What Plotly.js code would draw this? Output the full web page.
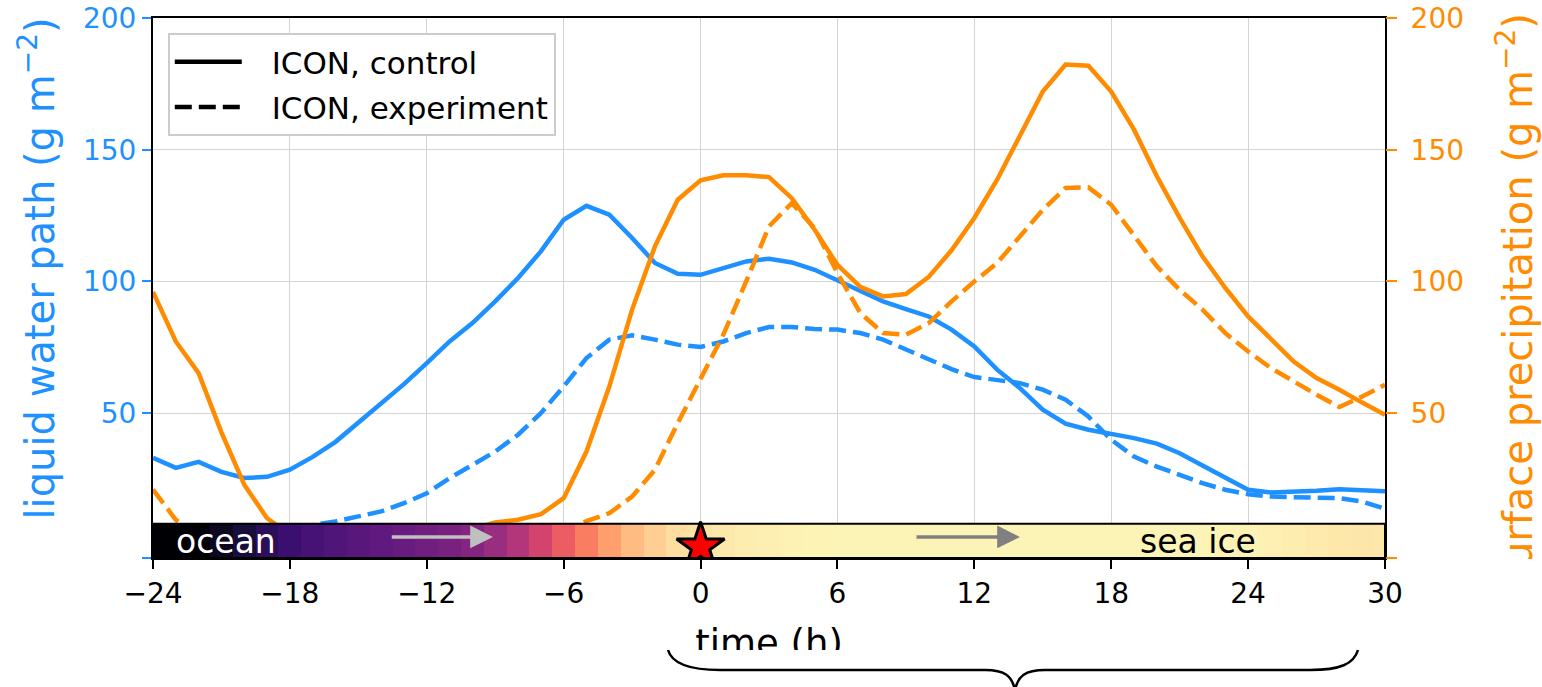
<!DOCTYPE html>
<html>
<head>
<meta charset="utf-8">
<script src="https://cdn.plot.ly/plotly-3.0.1.min.js"></script>
<style>
  html, body { margin: 0; padding: 0; background: #fff; }
  #wrap { position: relative; width: 1542px; height: 687px; overflow: hidden; }
  #plot { position: absolute; left: 0; top: 0; width: 1542px; height: 687px; }
  #overlay { position: absolute; left: 0; top: 0; width: 1542px; height: 687px; pointer-events: none; }
</style>
</head>
<body>
<div id="wrap">
  <div id="plot"></div>
  <svg id="overlay" width="1542" height="687"></svg>
</div>
<script>
// ---------------- data ----------------
const hours = [-24,-23,-22,-21,-20,-19,-18,-17,-16,-15,-14,-13,-12,-11,-10,-9,-8,-7,-6,-5,-4,-3,-2,-1,
  0,1,2,3,4,5,6,7,8,9,10,11,12,13,14,15,16,17,18,19,20,21,22,23,24,25,26,27,28,29,30];

// liquid water path (g m-2), left axis
const lwpControl = [33.0,29.2,31.5,27.7,25.4,25.8,28.5,33.4,39.1,46.3,53.9,61.0,69.0,77.2,84.2,92.4,101.3,111.4,123.4,128.7,125.3,116.5,107.0,102.9,
  102.5,105.1,107.6,108.6,107.2,104.4,100.4,96.2,92.4,89.5,86.7,81.7,75.3,66.5,59.5,51.3,46.0,43.7,42.2,40.5,38.4,34.8,30.1,25.3,20.9,19.9,20.0,20.5,21.1,20.9,20.3];
const lwpExperiment = [5.0,5.0,5.0,5.0,5.5,6.0,6.5,7.5,8.9,10.8,12.7,15.8,19.6,25.3,30.4,35.4,41.8,50.0,60.1,70.9,77.9,79.5,77.9,76.0,
  75.1,77.2,80.4,82.7,82.7,81.9,81.7,80.4,77.9,74.3,70.5,66.7,63.7,62.5,61.4,58.9,55.1,48.7,39.9,33.5,29.7,26.6,23.4,20.9,19.2,18.3,18.1,18.1,17.7,16.4,13.7];

// surface precipitation (g m-2), right axis
const precipControl = [96.0,77.2,65.2,42.7,22.8,10.1,4.0,2.5,2.0,2.0,2.0,2.5,3.0,4.0,6.0,8.5,9.5,11.6,17.7,35.4,60.1,89.3,113.3,131.0,
  138.4,140.3,140.3,139.6,131.6,119.6,106.3,97.9,94.3,95.2,101.7,111.8,124.1,138.6,155.7,172.1,182.3,181.9,172.1,157.6,139.9,124.1,109.5,97.5,86.7,77.9,69.6,63.3,58.9,54.0,49.4];
const precipExperiment = [21.0,9.5,3.0,1.5,1.0,1.0,1.0,1.0,1.0,1.0,1.0,1.0,1.0,1.0,1.0,1.0,1.0,2.0,4.0,9.0,12.0,18.3,28.5,46.2,
  63.0,79.8,100.0,120.9,129.7,120.2,103.2,88.0,80.4,79.8,84.2,92.4,100.0,107.0,117.1,127.2,135.5,135.7,129.1,117.7,105.7,96.8,89.3,80.4,73.4,67.1,62.0,57.0,52.3,56.3,60.8];

// surface-type strip (0 = open ocean ... 1 = sea ice), one value per hour
const surfaceIndex = [0.0,0.0,0.0,0.06,0.11,0.16,0.2,0.23,0.25,0.27,0.29,0.31,0.33,0.35,0.38,0.43,0.49,0.57,0.65,0.73,0.8,0.86,0.9,0.93,
  0.945,0.955,0.965,0.97,0.975,0.978,0.98,0.98,0.98,0.98,0.98,0.98,0.98,0.98,0.98,0.98,0.98,0.98,0.98,0.98,0.98,0.98,0.98,0.978,0.976,0.972,0.965,0.958,0.952,0.95,0.952];
const stripBottom = -5, stripTop = 8;

const starTime = [0], starLevel = [-0.75];
const xTicks = [-24,-18,-12,-6,0,6,12,18,24,30];
const yTicks = [50,100,150,200];
const yBottomTick = [-5];

const legendNames = ['ICON, control', 'ICON, experiment'];
const labels = {
  x: 'time (h)',
  yLeft: 'liquid water path (g m<sup>−2</sup>)',
  yRight: 'surface precipitation (g m<sup>−2</sup>)',
  ocean: 'ocean', ice: 'sea ice'
};

// ---------------- style ----------------
const BLUE = '#1e90ff', ORANGE = '#ff8c00';
const FONT = 'DejaVu Sans, Liberation Sans, sans-serif';
const DASH = '17px,7px';
const LW = 4.5;
const NB = '\u00a0\u00a0\u2006';
const magma = [
  [0.0,'#000004'],[0.1,'#140e36'],[0.2,'#3b0f70'],[0.3,'#641a80'],[0.4,'#8c2981'],
  [0.5,'#b73779'],[0.6,'#de4968'],[0.7,'#f7705c'],[0.8,'#fe9f6d'],[0.9,'#fecf92'],[1.0,'#fcfdbf']
];

const traces = [
  {x: hours, y: lwpControl, mode: 'lines', line: {color: BLUE, width: LW}, showlegend: false, xaxis: 'x', yaxis: 'y'},
  {x: hours, y: lwpExperiment, mode: 'lines', line: {color: BLUE, width: LW, dash: DASH}, showlegend: false, xaxis: 'x', yaxis: 'y'},
  {x: hours, y: precipControl, mode: 'lines', line: {color: ORANGE, width: LW}, showlegend: false, xaxis: 'x', yaxis: 'y2'},
  {x: hours, y: precipExperiment, mode: 'lines', line: {color: ORANGE, width: LW, dash: DASH}, showlegend: false, xaxis: 'x', yaxis: 'y2'},
  // legend entries
  {x: [null], y: [null], mode: 'lines', name: NB + legendNames[0], legendgroup: 'a',
   line: {color: '#000', width: LW}, xaxis: 'x', yaxis: 'y'},
  {x: [null], y: [null], mode: 'lines', name: NB + legendNames[1], legendgroup: 'b',
   line: {color: '#000', width: LW, dash: DASH}, xaxis: 'x', yaxis: 'y'},
  // surface strip on top overlay
  {type: 'heatmap', x: hours, y: [stripBottom, stripTop], z: [surfaceIndex], zmin: 0, zmax: 1,
   colorscale: magma, showscale: false, hoverinfo: 'skip', xaxis: 'x', yaxis: 'y3'},
  {x: starTime, y: starLevel, mode: 'markers', showlegend: false, xaxis: 'x', yaxis: 'y3',
   marker: {symbol: 'star', size: 36, color: '#ff0000', line: {color: '#000', width: 3}}}
];

const layout = {
  width: 1542, height: 687,
  margin: {l: 153, r: 157, t: 18, b: 129},
  paper_bgcolor: '#fff', plot_bgcolor: '#fff',
  font: {family: FONT, size: 28, color: '#000'},
  showlegend: true,
  legend: {
    x: 0.012, y: 0.972, xanchor: 'left', yanchor: 'top',
    bgcolor: '#fff', bordercolor: '#cccccc', borderwidth: 2,
    font: {family: FONT, size: 31, color: '#000'},
    itemwidth: 67, tracegroupgap: 2
  },
  xaxis: {
    range: [-24, 30], tickvals: xTicks, ticks: 'outside', ticklen: 9, tickwidth: 2, tickcolor: '#000',
    showline: true, linecolor: '#000', linewidth: 2, mirror: true,
    showgrid: true, gridcolor: '#d4d4d4', gridwidth: 1, zeroline: false,
    tickfont: {family: FONT, size: 28, color: '#000'},
    title: {text: labels.x, font: {family: FONT, size: 37, color: '#000'}, standoff: 22}
  },
  yaxis: {
    range: [-5, 200], tickvals: yTicks, ticks: 'outside', ticklen: 9, tickwidth: 2, tickcolor: BLUE,
    minor: {tickvals: yBottomTick, ticks: 'outside', ticklen: 9, tickwidth: 2, tickcolor: BLUE, showgrid: false},
    showline: true, linecolor: '#000', linewidth: 2, mirror: true,
    showgrid: true, gridcolor: '#d4d4d4', gridwidth: 1, zeroline: false,
    tickfont: {family: FONT, size: 28, color: BLUE}
  },
  yaxis2: {
    range: [-5, 200], tickvals: yTicks, ticks: 'outside', ticklen: 11, tickwidth: 2, tickcolor: ORANGE,
    minor: {tickvals: yBottomTick, ticks: 'outside', ticklen: 11, tickwidth: 2, tickcolor: ORANGE, showgrid: false},
    overlaying: 'y', side: 'right', showline: false, showgrid: false, zeroline: false,
    ticklabelstandoff: 8,
    tickfont: {family: FONT, size: 28, color: ORANGE}
  },
  yaxis3: {range: [-5, 200], overlaying: 'y', visible: false, showgrid: false, zeroline: false},
  shapes: [
    {type: 'rect', xref: 'x', yref: 'y', x0: -24, x1: 30, y0: stripBottom, y1: stripTop,
     line: {color: '#000', width: 2}, fillcolor: 'rgba(0,0,0,0)', layer: 'above'}
  ],
  annotations: [
    {x: -20.8, y: 1.2, xref: 'x', yref: 'y', text: labels.ocean, showarrow: false,
     font: {family: FONT, size: 33, color: '#fff'}, xanchor: 'center', yanchor: 'middle'},
    {x: 21.8, y: 1.2, xref: 'x', yref: 'y', text: labels.ice, showarrow: false,
     font: {family: FONT, size: 33, color: '#000'}, xanchor: 'center', yanchor: 'middle'},
    {x: -9.1, y: 3, ax: -13.6, ay: 3, xref: 'x', yref: 'y', axref: 'x', ayref: 'y', text: '',
     showarrow: true, arrowhead: 2, arrowsize: 1.3, arrowwidth: 3.5, arrowcolor: '#c0c0c0'},
    {x: 14.0, y: 3, ax: 9.4, ay: 3, xref: 'x', yref: 'y', axref: 'x', ayref: 'y', text: '',
     showarrow: true, arrowhead: 2, arrowsize: 1.3, arrowwidth: 3.5, arrowcolor: '#808080'},
    // y-axis titles
    {x: -0.0942, y: 0.536, xref: 'paper', yref: 'paper', text: labels.yLeft, textangle: -90,
     showarrow: false, font: {family: FONT, size: 40, color: BLUE}, xanchor: 'center', yanchor: 'middle'},
    {x: 1.1055, y: 0.478, xref: 'paper', yref: 'paper', text: labels.yRight, textangle: -90,
     showarrow: false, font: {family: FONT, size: 40, color: ORANGE}, xanchor: 'center', yanchor: 'middle'}
  ]
};

Plotly.newPlot('plot', traces, layout, {staticPlot: true, displayModeBar: false}).then(function () {
  const ns = 'http://www.w3.org/2000/svg';
  const svg = document.getElementById('overlay');
  function rect(x, y, w, h) {
    const r = document.createElementNS(ns, 'rect');
    r.setAttribute('x', x); r.setAttribute('y', y); r.setAttribute('width', w); r.setAttribute('height', h);
    r.setAttribute('fill', '#fff'); svg.appendChild(r);
  }
  // masks (cropped parts of the original figure)
  rect(1440, 559, 102, 128);
  rect(640, 650, 300, 37);
  // curly brace
  const p = document.createElementNS(ns, 'path');
  p.setAttribute('d', 'M668,650 C672,664 690,670 720,670 L985,670 C1005,670 1012,676 1015,690 C1018,676 1025,670 1045,670 L1310,670 C1340,670 1354,664 1358,650');
  p.setAttribute('fill', 'none'); p.setAttribute('stroke', '#000'); p.setAttribute('stroke-width', '2.5');
  svg.appendChild(p);
});
</script>
</body>
</html>
